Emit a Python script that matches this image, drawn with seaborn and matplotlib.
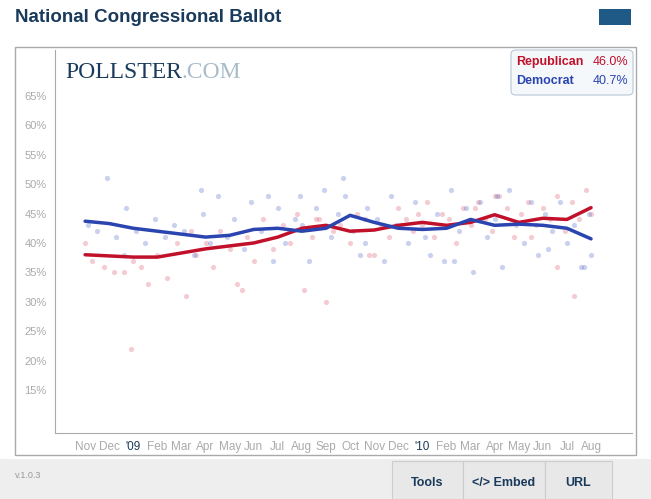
import matplotlib
matplotlib.use("Agg")
import matplotlib.pyplot as plt
import seaborn as sns
import pandas as pd
from matplotlib.patches import FancyBboxPatch, Rectangle

sns.set_style("white")
plt.rcParams['font.family'] = ['Liberation Sans', 'DejaVu Sans']

months = ["Nov","Dec","'09","Feb","Mar","Apr","May","Jun","Jul","Aug","Sep","Oct","Nov","Dec","'10","Feb","Mar","Apr","May","Jun","Jul","Aug"]
trend_x = list(range(22))
rep_trend = [38.0,37.8,37.6,37.6,38.3,39.0,39.5,40.0,41.0,42.5,43.0,42.0,42.2,43.0,43.5,43.0,43.5,44.8,43.5,44.2,44.0,46.0]
dem_trend = [43.7,43.3,42.5,42.0,41.5,41.0,41.3,42.3,42.5,42.0,42.5,44.7,43.5,42.5,42.3,42.5,44.0,43.0,43.2,43.0,42.5,40.7]

rep_px = [0.0,0.3,0.8,1.2,1.6,2.0,2.3,2.6,3.0,3.4,3.8,4.2,4.6,5.0,5.3,5.6,6.0,6.3,6.7,7.0,7.4,7.8,8.2,8.5,8.8,9.1,9.4,9.7,10.0,10.3,10.6,11.0,11.3,11.6,12.0,12.3,12.6,13.0,13.3,13.6,14.0,14.2,14.5,14.8,15.1,15.4,15.7,16.0,16.3,16.6,16.9,17.2,17.5,17.8,18.1,18.4,18.7,19.0,19.3,19.6,19.9,20.2,20.5,20.8,21.0,1.9,4.4,6.5,9.6,11.8,13.8,16.2,18.5,20.3,17.0,19.6]
rep_py = [40,37,36,35,35,37,36,33,38,34,40,31,38,40,36,42,39,33,41,37,44,39,43,40,45,32,41,44,30,42,43,40,45,44,38,43,41,46,44,42,43,47,41,45,44,40,46,43,47,44,42,48,46,41,45,47,43,46,44,48,42,47,44,49,45,22,42,32,44,38,45,46,41,31,48,36]
dem_px = [0.1,0.5,0.9,1.3,1.7,2.1,2.5,2.9,3.3,3.7,4.1,4.5,4.9,5.2,5.5,5.9,6.2,6.6,6.9,7.3,7.6,8.0,8.3,8.7,9.0,9.3,9.6,9.9,10.2,10.5,10.8,11.1,11.4,11.7,12.1,12.4,12.7,13.1,13.4,13.7,14.1,14.3,14.6,14.9,15.2,15.5,15.8,16.1,16.4,16.7,17.0,17.3,17.6,17.9,18.2,18.5,18.8,19.1,19.4,19.7,20.0,20.3,20.6,20.9,21.0,1.6,4.8,7.8,8.9,10.7,12.9,15.3,17.1,19.2,20.7,11.6]
dem_py = [43,42,51,41,46,42,40,44,41,43,42,38,45,40,48,41,44,39,47,42,48,46,40,44,43,37,46,49,41,45,48,42,38,46,44,37,48,43,40,47,41,38,45,37,49,42,46,35,47,41,44,36,49,43,40,47,38,45,42,47,40,43,36,45,38,38,49,37,48,51,43,37,48,39,36,40]

fig = plt.figure(figsize=(6.51, 4.99), dpi=100)
fig.patch.set_facecolor('white')
ax = fig.add_axes([55/651, 1-433/499, (632-55)/651, (433-50)/499])

def m2x(v):
    return v

sns.scatterplot(x=rep_px, y=rep_py, ax=ax, color='#d9556b', alpha=0.3, s=14, linewidth=0, legend=False)
sns.scatterplot(x=dem_px, y=dem_py, ax=ax, color='#5068c8', alpha=0.3, s=14, linewidth=0, legend=False)
df = pd.DataFrame({"x": trend_x, "rep": rep_trend, "dem": dem_trend})
sns.lineplot(data=df, x="x", y="rep", ax=ax, color='#c0102a', lw=2.5)
sns.lineplot(data=df, x="x", y="dem", ax=ax, color='#2a44b0', lw=2.5)

ax.set_xlim(-1.25, 22.7)
ax.set_ylim(7.7, 72.8)
ax.set_xlabel(""); ax.set_ylabel("")
ax.set_yticks(range(15, 70, 5))
ax.set_yticklabels([f"{v}%" for v in range(15, 70, 5)], color='#aaaaaa', fontsize=8)
ax.set_xticks(trend_x)
ax.set_xticklabels(months, fontsize=8.5, color='#aaaaaa')
for lab in ax.get_xticklabels():
    if lab.get_text() in ("'09", "'10"):
        lab.set_color('#1a3a5c')
ax.tick_params(axis='both', length=4, color='#aaaaaa', direction='out', pad=2)
for s in ['top', 'right']:
    ax.spines[s].set_visible(False)
for s in ['left', 'bottom']:
    ax.spines[s].set_color('#aaaaaa')

# frame and decorations
fig.patches.append(Rectangle((15/651, 1-455/499), (636-15)/651, (455-47)/499, transform=fig.transFigure,
                             fill=False, ec='#aaaaaa', lw=1, zorder=0))
fig.patches.append(Rectangle((0, 0), 1, 40/499, transform=fig.transFigure, fc='#eeeeee', ec='none', zorder=0))
fig.text(15/651, 1-17/499, "National Congressional Ballot", fontsize=13.5, fontweight='bold', color='#1a3a5c', va='center')
fig.text(65/651, 1-73/499, "POLLSTER", fontsize=17, color='#1a3a5c', va='center', family='Liberation Serif')
fig.text(182/651, 1-73/499, ".COM", fontsize=17, color='#a8bccb', va='center', family='Liberation Serif')
fig.patches.append(FancyBboxPatch((511/651, 1-95/499), 122/651, 45/499, boxstyle="round,pad=0,rounding_size=0.008",
                                  transform=fig.transFigure, fc='#f5f8fb', ec='#b8c8d8', lw=0.8, zorder=3))
fig.text(516/651, 1-62/499, "Republican", fontsize=9, fontweight='bold', color='#c0102a', va='center', zorder=4)
fig.text(628/651, 1-62/499, "46.0%", fontsize=9, color='#c0102a', va='center', ha='right', zorder=4)
fig.text(516/651, 1-81/499, "Democrat", fontsize=9, fontweight='bold', color='#2a44b0', va='center', zorder=4)
fig.text(628/651, 1-81/499, "40.7%", fontsize=9, color='#2a44b0', va='center', ha='right', zorder=4)
fig.patches.append(Rectangle((599/651, 1-25/499), 32/651, 16/499, transform=fig.transFigure, fc='#1f5a86', ec='none'))
fig.text(15/651, 1-476/499, "v.1.0.3", fontsize=6.5, color='#999999', va='center')
for x0, w, label in [(392, 71, "Tools"), (463, 82, "</> Embed"), (545, 67, "URL")]:
    fig.patches.append(Rectangle((x0/651, 0), w/651, 38/499, transform=fig.transFigure, fc='#e8e8e8', ec='#cccccc', lw=0.8))
    fig.text((x0 + w/2)/651, 1-483/499, label, fontsize=9, fontweight='bold', color='#1a3a5c', ha='center', va='center')

fig.savefig("out.png", dpi=100)
